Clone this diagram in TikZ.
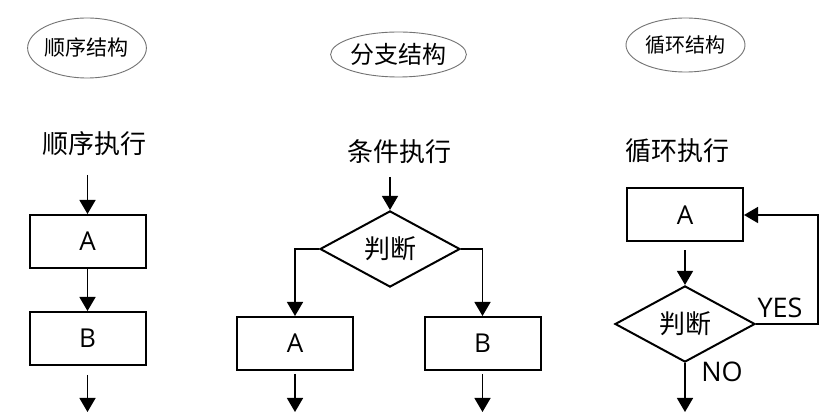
\documentclass[tikz,border=0pt]{standalone}
\usepackage{fontspec}
\setmainfont{Open Sans}
\newfontfamily\cjk{Noto Sans CJK SC}
\usetikzlibrary{
  positioning,
  arrows.meta,
  shapes.geometric
}

\begin{document}
\begin{tikzpicture}[
  x=1pt, y=-1pt,
  line width=1.5pt,
  title/.style={
    ellipse,
    draw=black!55,
    line width=0.9pt,
    inner sep=0pt
  },
  heading/.style={
    inner sep=0pt,
    font=\cjk\fontsize{26}{29}\selectfont
  },
  block/.style={
    rectangle,
    draw,
    line width=2pt,
    minimum width=116pt,
    minimum height=53pt,
    inner sep=0pt,
    font=\fontsize{26}{29}\selectfont
  },
  decision/.style={
    diamond,
    draw,
    line width=2pt,
    minimum width=140pt,
    minimum height=68pt,
    inner sep=0pt,
    font=\cjk\fontsize{26}{29}\selectfont
  },
  arrow/.style={
    -{Triangle[width=16pt,length=14pt]}
  },
  answer/.style={
    inner sep=0pt,
    font=\fontsize{27}{30}\selectfont
  }
]

\fill[white] (0,0) rectangle (828,419);
\useasboundingbox (0,0) rectangle (828,419);

% Titles
\node[title, minimum width=118pt, minimum height=60pt, font=\cjk\fontsize{21}{24}\selectfont] (seqtitle) at (87,48) {顺序结构};
\node[title, minimum width=119pt, minimum height=45pt, font=\cjk\fontsize{24}{27}\selectfont] (brtitle) at (398.5,54.5) {分支结构};
\node[title, minimum width=119pt, minimum height=54pt, font=\cjk\fontsize{20}{23}\selectfont] (looptitle) at (685.5,45) {循环结构};

% Sequence
\node[heading] (seqhead) at (94,144) {顺序执行};
\coordinate (seqin) at (87.5,175);
\node[block] (seqA) at (87.5,241.5) {A};
\node[block, below=42pt of seqA] (seqB) {B};
\coordinate (seqout) at (87.5,412);

\draw[arrow] (seqin) -- (seqA);
\draw[arrow] (seqA) -- (seqB);
\draw[arrow, shorten <=9pt] (seqB) -- (seqout);

% Branch
\node[heading] (brhead) at (399,152) {条件执行};
\coordinate (brin) at (390,177);
\node[decision] (brjudge) at (390,249) {判断};
\node[block] (brA) at (295,343.5) {A};
\node[block] (brB) at (482.5,343.5) {B};
\coordinate (broutA) at (295,412);
\coordinate (broutB) at (482.5,412);

\draw[arrow] (brin) -- (brjudge);
\draw[arrow] (brjudge.west) -| (brA.north);
\draw[arrow] (brjudge.east) -| (brB.north);
\draw[arrow, shorten <=3pt] (brA) -- (broutA);
\draw[arrow, shorten <=3pt] (brB) -- (broutB);

% Loop
\node[heading] (loophead) at (677,151) {循环执行};
\node[block] (loopA) at (685,215) {A};
\node[decision] (loopjudge) at (685,324) {判断};
\coordinate (loopout) at (685,412);

\draw[arrow, shorten <=8pt] (loopA) -- (loopjudge);
\draw[arrow] (loopjudge.east) -- ++(62,0) |- (loopA.east);
\draw[arrow] (loopjudge) -- (loopout);
\node[answer] (yes) at (780,308) {YES};
\node[answer] (no) at (722,372) {NO};

\end{tikzpicture}
\end{document}
